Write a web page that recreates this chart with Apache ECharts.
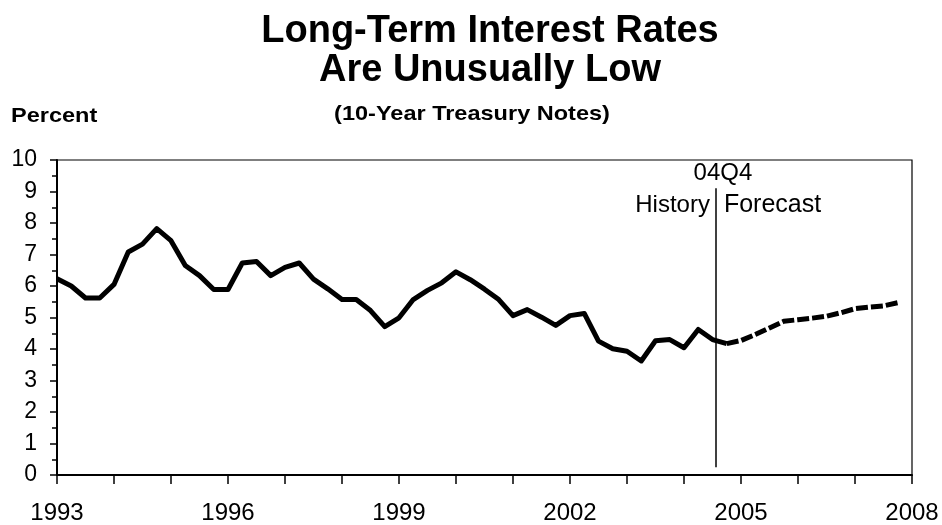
<!DOCTYPE html>
<html>
<head>
<meta charset="utf-8">
<script src="https://cdn.jsdelivr.net/npm/echarts@6/dist/echarts.min.js"></script>
<style>
  html, body { margin: 0; padding: 0; background: #ffffff; }
  #chart { width: 942px; height: 525px; }
</style>
</head>
<body>
<div id="chart"></div>
<script>
// Quarterly 10-year Treasury note yield, percent, starting 1993Q1
const startYear = 1993;
const historyRates = [
  6.23, 6.00, 5.62, 5.62,   // 1993
  6.05, 7.08, 7.33, 7.82,   // 1994
  7.44, 6.65, 6.33, 5.89,   // 1995
  5.89, 6.73, 6.78, 6.33,   // 1996
  6.59, 6.73, 6.22, 5.91,   // 1997
  5.57, 5.57, 5.22, 4.71,   // 1998
  4.99, 5.57, 5.86, 6.10,   // 1999
  6.45, 6.20, 5.90, 5.57,   // 2000
  5.06, 5.25, 5.01, 4.75,   // 2001
  5.06, 5.13, 4.25, 4.01,   // 2002
  3.93, 3.62, 4.26, 4.30,   // 2003
  4.04, 4.62, 4.30, 4.17    // 2004
];
// Projection, 2005Q1 - 2007Q4
const forecastRates = [
  4.27, 4.46, 4.67, 4.88,   // 2005
  4.93, 4.98, 5.04, 5.15,   // 2006
  5.28, 5.33, 5.37, 5.47    // 2007
];
const yearLabels = [1993, 1996, 1999, 2002, 2005, 2008];
const dividerYear = 2004.56;        // history / forecast split marker
const dividerSpan = [0.25, 9.1];    // vertical extent of the marker, percent

const quarterPoint = (v, i) => [startYear + i / 4, v];
const historyData = historyRates.map(quarterPoint);
const forecastData = [historyRates[historyRates.length - 1]]
  .concat(forecastRates)
  .map((v, i) => quarterPoint(v, i + historyRates.length - 1));

const FONT = '"Liberation Sans", Arial, sans-serif';
const chart = echarts.init(document.getElementById('chart'), null, { renderer: 'canvas' });

chart.setOption({
  animation: false,
  backgroundColor: '#ffffff',
  grid: {
    left: 57, right: 30, top: 160, bottom: 49,
    show: true, borderColor: '#000', borderWidth: 1.2, backgroundColor: 'transparent'
  },
  xAxis: {
    type: 'value',
    min: 1993, max: 2008, interval: 1,
    axisLine: { show: true, onZero: false, lineStyle: { color: '#000', width: 2 } },
    axisTick: { show: true, inside: false, length: 9, lineStyle: { color: '#000', width: 1.5 } },
    splitLine: { show: false },
    axisLabel: {
      show: true, color: '#000', fontFamily: FONT, fontSize: 24, margin: 26,
      showMinLabel: true, showMaxLabel: true,
      formatter: v => (yearLabels.indexOf(Math.round(v)) >= 0 ? String(Math.round(v)) : '')
    }
  },
  yAxis: {
    type: 'value',
    min: 0, max: 10, interval: 1,
    axisLine: { show: true, lineStyle: { color: '#000', width: 2 } },
    axisTick: { show: true, inside: false, length: 7, lineStyle: { color: '#000', width: 1.5 } },
    minorTick: { show: true, splitNumber: 2, length: 5, lineStyle: { color: '#000', width: 1.5 } },
    splitLine: { show: false },
    axisLabel: { color: '#000', fontFamily: FONT, fontSize: 23, margin: 20 }
  },
  series: [
    {
      name: 'History', type: 'line', data: historyData,
      symbol: 'none', z: 3,
      lineStyle: { color: '#000', width: 5, join: 'round' }
    },
    {
      name: 'Forecast', type: 'line', data: forecastData,
      symbol: 'none', z: 3,
      lineStyle: { color: '#000', width: 5, type: [12, 3], cap: 'butt' }
    },
    {
      name: 'Divider', type: 'line', data: [], symbol: 'none',
      markLine: {
        silent: true, symbol: 'none', label: { show: false },
        lineStyle: { color: '#000', width: 1.5, type: 'solid' },
        data: [[{ coord: [dividerYear, dividerSpan[0]] }, { coord: [dividerYear, dividerSpan[1]] }]]
      }
    }
  ]
});

const divX = chart.convertToPixel({ gridIndex: 0 }, [dividerYear, 0])[0];
chart.setOption({
  graphic: [
    { type: 'text', x: 490, y: 32, style: { text: 'Long-Term Interest Rates', font: 'bold 38px ' + FONT, fill: '#000', align: 'center', verticalAlign: 'middle' } },
    { type: 'text', x: 490, y: 71, style: { text: 'Are Unusually Low', font: 'bold 38px ' + FONT, fill: '#000', align: 'center', verticalAlign: 'middle' } },
    { type: 'text', x: 472, y: 114, scaleX: 1.12, style: { text: '(10-Year Treasury Notes)', font: 'bold 21px ' + FONT, fill: '#000', align: 'center', verticalAlign: 'middle' } },
    { type: 'text', x: 11, y: 116, scaleX: 1.12, style: { text: 'Percent', font: 'bold 21px ' + FONT, fill: '#000', align: 'left', verticalAlign: 'middle' } },
    { type: 'text', x: divX + 7, y: 173, style: { text: '04Q4', font: '24px ' + FONT, fill: '#000', align: 'center', verticalAlign: 'middle' } },
    { type: 'text', x: divX - 6, y: 205, style: { text: 'History', font: '24px ' + FONT, fill: '#000', align: 'right', verticalAlign: 'middle' } },
    { type: 'text', x: divX + 8, y: 205, style: { text: 'Forecast', font: '25px ' + FONT, fill: '#000', align: 'left', verticalAlign: 'middle' } }
  ]
});
</script>
</body>
</html>
